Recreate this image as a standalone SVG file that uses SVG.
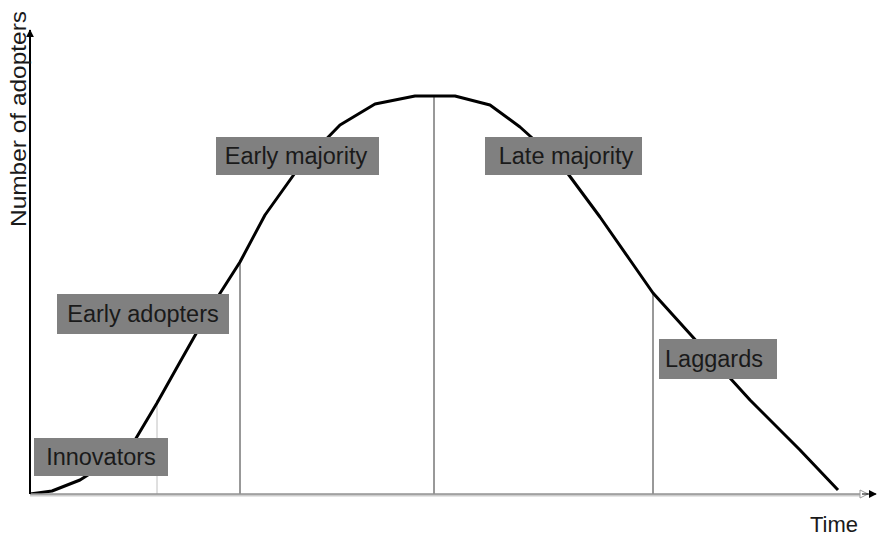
<svg xmlns="http://www.w3.org/2000/svg" width="878" height="536" viewBox="0 0 878 536">
<defs>
<style>
.lbl rect{fill:#808080}
.lbl text{font-family:"Liberation Sans",Arial,sans-serif;font-size:23.5px;fill:#1a1a1a}
.ax{font-family:"Liberation Sans",Arial,sans-serif;font-size:22px;fill:#1a1a1a}
</style>
<marker id="ah" viewBox="0 0 10 10" refX="9" refY="5" markerWidth="8" markerHeight="8" markerUnits="userSpaceOnUse" orient="auto"><path d="M0,0 L10,5 L0,10 z" fill="#000"/></marker>
</defs>
<rect width="878" height="536" fill="#fff"/>
<g id="connectors">
<line x1="157" y1="400" x2="157" y2="494" stroke="#c0c0c0" stroke-width="1"/>
<line x1="240" y1="262" x2="240" y2="494" stroke="#333" stroke-width="1"/>
<line x1="434" y1="96" x2="434" y2="494" stroke="#333" stroke-width="1"/>
<line x1="653" y1="293" x2="653" y2="494" stroke="#333" stroke-width="1"/>
<polyline fill="none" stroke="#000" stroke-width="3" stroke-linejoin="round" points="30,494 52,491 80,480 110,461 135,440 157,403 180,362 210,309 240,262 265,215 300,166 340,125 375,104 415,96 455,96 490,105 520,127 560,163 600,217 630,260 653,293 700,345 750,400 800,450 838,490"/>
<line x1="30" y1="495" x2="862" y2="495" stroke="#ccc" stroke-width="3"/>
<line x1="30" y1="494" x2="862" y2="494" stroke="#777" stroke-width="1"/>
<path d="M860,490 L868,494 L860,498 z" fill="#fff" stroke="#999" stroke-width="1"/>
<line x1="862" y1="494" x2="876" y2="494" stroke="#000" stroke-width="1" marker-end="url(#ah)"/>
<line x1="30" y1="494" x2="30" y2="30" stroke="#000" stroke-width="2" marker-end="url(#ah)"/>
</g>
<text class="ax" x="834" y="532" text-anchor="middle">Time</text>
<text class="ax" transform="translate(26,119) rotate(-90)" text-anchor="middle" textLength="216" lengthAdjust="spacingAndGlyphs">Number of adopters</text>
<g id="innovators" class="lbl"><rect x="34" y="438" width="134" height="38"/><text x="101" y="465" text-anchor="middle">Innovators</text></g>
<g id="early-adopters" class="lbl"><rect x="57" y="294" width="172" height="40"/><text x="143" y="322" text-anchor="middle">Early adopters</text></g>
<g id="early-majority" class="lbl"><rect x="216" y="137" width="163" height="38"/><text x="296" y="164" text-anchor="middle">Early majority</text></g>
<g id="late-majority" class="lbl"><rect x="485" y="137" width="157" height="38"/><text x="566" y="164" text-anchor="middle">Late majority</text></g>
<g id="laggards" class="lbl"><rect x="659" y="339" width="118" height="40"/><text x="714" y="367" text-anchor="middle">Laggards</text></g>
</svg>
